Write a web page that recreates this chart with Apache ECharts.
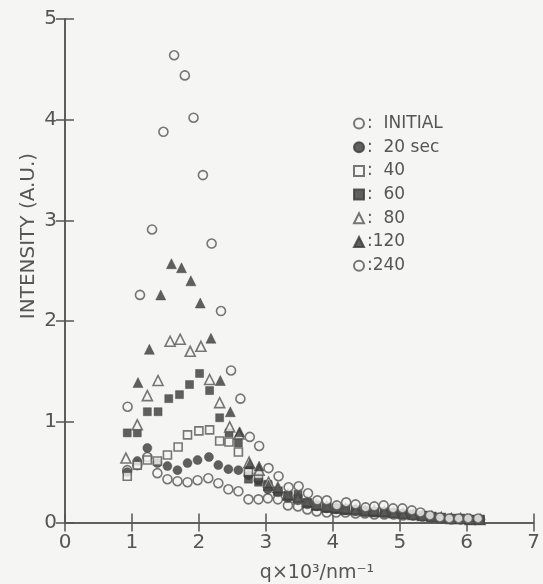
<!DOCTYPE html>
<html>
<head>
<meta charset="utf-8">
<script src="https://cdn.jsdelivr.net/npm/echarts@6/dist/echarts.min.js"></script>
<style>
  html, body { margin: 0; padding: 0; background: #f5f5f3; }
  #chart { width: 543px; height: 584px; }
</style>
</head>
<body>
<div id="chart"></div>
<script>
// ---- data ----
const xTicks = [0, 1, 2, 3, 4, 5, 6, 7];
const yTicks = [0, 1, 2, 3, 4, 5];

const qInitial = [0.93,1.08,1.23,1.38,1.53,1.68,1.83,1.98,2.14,2.29,2.44,2.59,2.74,2.89,3.03,3.18,3.33,3.48,3.62,3.76,3.91,4.05,4.19,4.34,4.48,4.62,4.77,4.91,5.05,5.20,5.34,5.48,5.62,5.77,5.91,6.05,6.20];
const yInitial = [0.52,0.57,0.65,0.49,0.43,0.41,0.40,0.42,0.44,0.39,0.33,0.31,0.23,0.23,0.24,0.23,0.17,0.16,0.13,0.11,0.10,0.10,0.10,0.09,0.09,0.08,0.08,0.08,0.07,0.07,0.06,0.05,0.04,0.03,0.03,0.03,0.03];

const q20 = [0.93,1.08,1.23,1.38,1.53,1.68,1.83,1.98,2.15,2.29,2.44,2.59,2.74,2.89,3.03,3.18,3.33,3.48,3.62,3.76,3.91,4.05,4.19,4.34,4.48,4.62,4.77,4.91,5.05,5.20,5.34,5.48,5.62,5.77,5.91,6.05,6.20];
const y20 = [0.50,0.61,0.74,0.59,0.56,0.52,0.59,0.62,0.65,0.57,0.53,0.52,0.47,0.42,0.33,0.30,0.24,0.22,0.18,0.16,0.14,0.13,0.12,0.11,0.10,0.10,0.09,0.09,0.08,0.07,0.06,0.05,0.04,0.04,0.03,0.03,0.03];

const q40 = [0.93,1.08,1.23,1.38,1.53,1.69,1.83,2.00,2.16,2.31,2.45,2.59,2.74,2.89,3.03,3.18,3.33,3.48,3.62,3.76,3.91,4.05,4.19,4.34,4.48,4.62,4.77,4.91,5.05,5.20,5.34,5.48,5.62,5.77,5.91,6.05,6.20];
const y40 = [0.46,0.57,0.62,0.61,0.67,0.75,0.87,0.91,0.92,0.81,0.80,0.70,0.50,0.45,0.36,0.31,0.26,0.23,0.19,0.17,0.15,0.14,0.13,0.12,0.11,0.10,0.10,0.09,0.08,0.08,0.07,0.06,0.05,0.04,0.04,0.03,0.03];

const q60 = [0.93,1.08,1.23,1.39,1.55,1.71,1.86,2.01,2.16,2.31,2.45,2.59,2.74,2.89,3.03,3.18,3.33,3.48,3.62,3.76,3.91,4.05,4.19,4.34,4.48,4.62,4.77,4.91,5.05,5.20,5.34,5.48,5.62,5.77,5.91,6.05,6.20];
const y60 = [0.89,0.89,1.10,1.10,1.23,1.27,1.37,1.48,1.31,1.04,0.89,0.79,0.43,0.40,0.38,0.31,0.27,0.28,0.20,0.17,0.15,0.14,0.14,0.13,0.12,0.11,0.11,0.10,0.09,0.08,0.07,0.06,0.05,0.04,0.04,0.03,0.03];

const q80 = [0.91,1.08,1.23,1.39,1.57,1.72,1.87,2.03,2.16,2.31,2.46,2.60,2.75,2.90,3.04,3.18,3.33,3.48,3.62,3.76,3.91,4.05,4.19,4.34,4.48,4.62,4.77,4.91,5.05,5.20,5.34,5.48,5.62,5.77,5.91,6.05,6.20];
const y80 = [0.64,0.97,1.26,1.41,1.80,1.82,1.70,1.75,1.42,1.19,0.95,0.88,0.60,0.52,0.40,0.35,0.28,0.25,0.21,0.18,0.16,0.15,0.14,0.13,0.12,0.12,0.11,0.10,0.09,0.08,0.07,0.06,0.05,0.04,0.04,0.03,0.03];

const q120 = [1.09,1.26,1.43,1.59,1.74,1.88,2.02,2.18,2.32,2.47,2.61,2.76,2.90,3.04,3.18,3.33,3.48,3.62,3.76,3.91,4.05,4.19,4.34,4.48,4.62,4.77,4.91,5.05,5.20,5.34,5.48,5.62,5.77,5.91,6.05,6.20];
const y120 = [1.39,1.72,2.26,2.57,2.53,2.40,2.18,1.83,1.41,1.10,0.90,0.58,0.56,0.37,0.34,0.27,0.25,0.20,0.17,0.15,0.14,0.13,0.13,0.12,0.11,0.11,0.10,0.09,0.08,0.07,0.06,0.05,0.04,0.04,0.03,0.03];

const q240 = [0.935,1.12,1.30,1.47,1.63,1.79,1.92,2.06,2.19,2.33,2.48,2.62,2.76,2.90,3.04,3.19,3.34,3.49,3.63,3.77,3.91,4.06,4.20,4.34,4.49,4.62,4.76,4.90,5.04,5.18,5.31,5.45,5.60,5.74,5.88,6.02,6.17];
const y240 = [1.15,2.26,2.91,3.88,4.64,4.44,4.02,3.45,2.77,2.10,1.51,1.23,0.85,0.76,0.54,0.46,0.35,0.36,0.29,0.22,0.22,0.17,0.20,0.18,0.15,0.16,0.17,0.14,0.14,0.12,0.10,0.07,0.05,0.04,0.04,0.04,0.04];

const seriesNames = ['INITIAL', '20 sec', '40', '60', '80', '120', '240'];
const legendTexts = [':  INITIAL', ':  20 sec', ':  40', ':  60', ':  80', ':120', ':240'];

// ---- styling ----
const INK = '#3a3a3a';
const BG = '#f5f5f3';
const symbols = ['circle', 'circle', 'rect', 'rect', 'triangle', 'triangle', 'circle'];
const filled = [false, true, false, true, false, true, false];
const sizes = [9, 9, 8, 8, 10, 10, 9];
const qs = [qInitial, q20, q40, q60, q80, q120, q240];
const ys = [yInitial, y20, y40, y60, y80, y120, y240];

const series = seriesNames.map((name, k) => ({
  name: name,
  type: 'scatter',
  symbol: symbols[k],
  symbolSize: sizes[k],
  itemStyle: filled[k]
    ? { color: INK, borderColor: INK, borderWidth: 0.5 }
    : { color: BG, borderColor: '#555', borderWidth: 1.6 },
  data: qs[k].map((x, i) => [x, ys[k][i]])
}));

const chart = echarts.init(document.getElementById('chart'), null, { renderer: 'canvas' });
const axisCommon = {
  type: 'value',
  axisLine: { show: true, lineStyle: { color: '#555', width: 1.5 } },
  axisTick: { show: true, inside: true, length: 9, lineStyle: { color: '#555', width: 1.5 } },
  splitLine: { show: false }
};
chart.setOption({
  backgroundColor: BG,
  animation: false,
  grid: { left: 65, right: 5.5, top: 19, bottom: 61.5, containLabel: false },
  xAxis: [
    Object.assign({}, axisCommon, {
      min: xTicks[0], max: xTicks[xTicks.length - 1], interval: 1, position: 'bottom',
      axisLabel: { show: true, fontSize: 20, color: '#555', margin: 10, fontFamily: 'DejaVu Sans' }
    }),
    Object.assign({}, axisCommon, {
      min: xTicks[0], max: xTicks[xTicks.length - 1], interval: 1, position: 'top',
      axisLabel: { show: false }
    })
  ],
  yAxis: [
    Object.assign({}, axisCommon, {
      min: yTicks[0], max: yTicks[yTicks.length - 1], interval: 1, position: 'left',
      axisLabel: { show: true, fontSize: 20, color: '#555', margin: 8, fontFamily: 'DejaVu Sans' }
    }),
    Object.assign({}, axisCommon, {
      min: yTicks[0], max: yTicks[yTicks.length - 1], interval: 1, position: 'right',
      axisLabel: { show: false }
    })
  ],
  legend: {
    orient: 'vertical',
    left: 348,
    top: 110,
    itemWidth: 10,
    itemHeight: 10,
    itemGap: 6.7,
    data: seriesNames,
    formatter: name => legendTexts[seriesNames.indexOf(name)],
    textStyle: { fontSize: 17, color: '#555', lineHeight: 17, fontFamily: 'DejaVu Sans', padding: [0, 0, 0, -2] },
    selectedMode: false
  },
  graphic: [
    {
      type: 'text', rotation: Math.PI / 2,
      x: 29, y: 236,
      style: { text: 'INTENSITY (A.U.)', fontSize: 20, fill: '#555', fontFamily: 'DejaVu Sans', align: 'center', verticalAlign: 'middle' }
    },
    {
      type: 'text', x: 317, y: 573,
      style: { text: 'q×10³/nm⁻¹', fontSize: 19, fill: '#555', fontFamily: 'DejaVu Sans', align: 'center', verticalAlign: 'middle' }
    }
  ],
  series: series
});
</script>
</body>
</html>
